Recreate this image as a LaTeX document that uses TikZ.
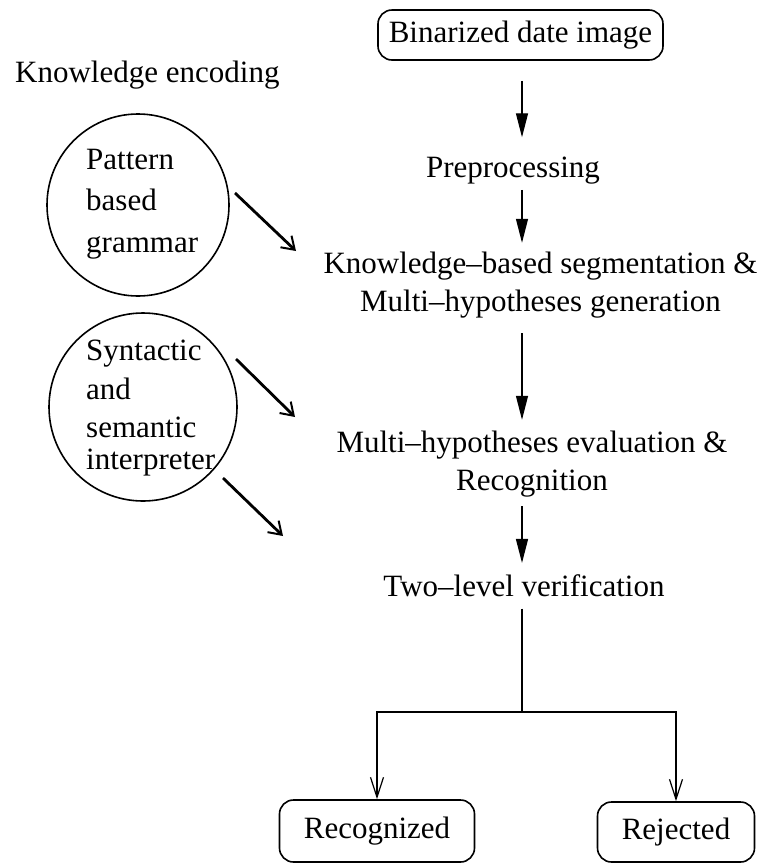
\documentclass[tikz,border=0pt]{standalone}
\usepackage{fontspec}
\setmainfont{Liberation Serif}
\usetikzlibrary{arrows.meta}
\begin{document}
\begin{tikzpicture}[x=1pt,y=-1pt,
  txt/.style={inner sep=0pt, font=\fontsize{31}{38}\selectfont},
  rbox/.style={txt, draw, line width=1.6pt, rounded corners=14pt},
  circ/.style={circle, draw, line width=1.6pt, inner sep=0pt},
  flow/.style={line width=1.3pt, -{Triangle[length=24pt,width=12pt]}},
  diag/.style={line width=2.8pt, -{Straight Barb[length=12pt,width=16pt,line width=2pt]}},
  branch/.style={line width=1.4pt, -{Straight Barb[length=20pt,width=13pt,line width=1.2pt]}},
  plain/.style={line width=1.4pt}]
\useasboundingbox[fill=white] (0,0) rectangle (761,863);

% main column
\coordinate (colx) at (522,0);
\node[rbox, minimum width=285pt, minimum height=50pt] (bin) at (520.5,35) {Binarized date image};
\node[txt, anchor=base] (prep) at (513,177) {Preprocessing};
\node[txt, anchor=north, align=center] (kb) at (540.5,251.8)
  {Knowledge\textendash based segmentation \&\\Multi\textendash hypotheses generation};
\node[txt, anchor=north, align=center] (me) at (532,430.8)
  {Multi\textendash hypotheses evaluation \&\\Recognition};
\node[txt, anchor=base] (tl) at (524,596) {Two\textendash level verification};

\node[rbox, minimum width=195pt, minimum height=62pt] (rec) at (377,831) {Recognized};
\node[rbox, minimum width=157pt, minimum height=60pt] (rej) at (676,832) {Rejected};

\draw[flow, shorten <=20pt, shorten >=19pt] (bin.south -| colx) -- (prep.north -| colx);
\draw[flow, shorten <=6pt, shorten >=9pt] (prep.south -| colx) -- (kb.north -| colx);
\draw[flow, shorten <=15pt, shorten >=11pt] (kb.south -| colx) -- (me.north -| colx);
\draw[flow, shorten <=9pt, shorten >=11pt] (me.south -| colx) -- (tl.north -| colx);

\coordinate (split) at (522,712);
\draw[plain, shorten <=12pt] (tl.south -| colx) -- (split);
\draw[branch] (split) -| (rec.north);
\draw[branch] (split) -| (rej.north);

% knowledge sources
\node[txt, anchor=base west] (ke) at (15,82) {Knowledge encoding};

\node[circ, minimum size=182pt] (c1) at (138,205) {};
\node[txt, anchor=base west] (p1) at (86,169) {Pattern};
\node[txt, anchor=base west] (p2) at (86,210) {based};
\node[txt, anchor=base west] (p3) at (86,252) {grammar};

\node[circ, minimum size=188pt] (c2) at (143,407) {};
\node[txt, anchor=base west] (s1) at (86,360) {Syntactic};
\node[txt, anchor=base west] (s2) at (86,399) {and};
\node[txt, anchor=base west] (s3) at (86,437) {semantic};
\node[txt, anchor=base west] (s4) at (86,469) {interpreter};

\coordinate (d1s) at (235,193);
\coordinate (d1e) at (296,251);
\coordinate (d2s) at (236,359);
\coordinate (d2e) at (295,417);
\coordinate (d3s) at (223,478);
\coordinate (d3e) at (283,536);
\draw[diag] (d1s) -- (d1e);
\draw[diag] (d2s) -- (d2e);
\draw[diag] (d3s) -- (d3e);
\end{tikzpicture}
\end{document}
